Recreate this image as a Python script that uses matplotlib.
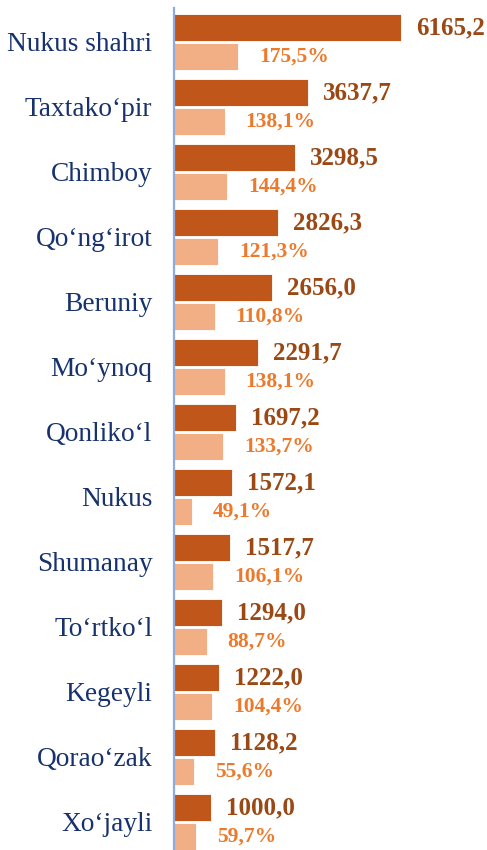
import matplotlib.pyplot as plt
import numpy as np

# Datos
tumanlar = ["Nukus shahri", "Taxtako\u2018pir", "Chimboy", "Qo\u2018ng\u2018irot", "Beruniy",
            "Mo\u2018ynoq", "Qonliko\u2018l", "Nukus", "Shumanay", "To\u2018rtko\u2018l",
            "Kegeyli", "Qorao\u2018zak", "Xo\u2018jayli"]
qiymat = [6165.2, 3637.7, 3298.5, 2826.3, 2656.0, 2291.7, 1697.2, 1572.1, 1517.7,
          1294.0, 1222.0, 1128.2, 1000.0]
foiz = [175.5, 138.1, 144.4, 121.3, 110.8, 138.1, 133.7, 49.1, 106.1, 88.7, 104.4,
        55.6, 59.7]

colOscuro = "#C0561A"
colClaro = "#F2AF86"
colTxtOscuro = "#9A4814"
colTxtClaro = "#EC7A2C"
colCat = "#17326C"

W, H = 487, 850
fig = plt.figure(figsize=(W / 100, H / 100), dpi=100)
ax = fig.add_axes([174 / W, 0, 1 - 174 / W, 1 - 8 / H])
ax2 = ax.twiny()

y = np.arange(len(tumanlar))
off = 0.222
alto = 0.415

ax.barh(y - off, qiymat, height=alto, color=colOscuro, edgecolor="white", linewidth=0.6)
ax2.barh(y + off, foiz, height=alto, color=colClaro, edgecolor="white", linewidth=0.6)

xmax = 313 / 0.03677
ax.set_xlim(0, xmax)
ax2.set_xlim(0, 313 / 0.3665)
ax.set_ylim(12.431, -0.523)

for i in range(len(tumanlar)):
    ax.annotate(("%.1f" % qiymat[i]).replace(".", ","), (qiymat[i], y[i] - off),
                xytext=(15, 0), textcoords="offset pixels", va="center", ha="left",
                fontsize=18, fontweight="bold", family="Liberation Serif",
                color=colTxtOscuro, annotation_clip=False)
    ax2.annotate(("%.1f%%" % foiz[i]).replace(".", ","), (foiz[i], y[i] + off),
                 xytext=(21, 0), textcoords="offset pixels", va="center", ha="left",
                 fontsize=15.5, fontweight="bold", family="Liberation Serif",
                 color=colTxtClaro, annotation_clip=False)

ax.set_xticks([])
ax2.set_xticks([])
ax.set_yticks(y)
ax.set_yticklabels(tumanlar, family="Liberation Serif", fontsize=19.7, color=colCat)
ax.tick_params(axis="y", length=0, pad=15.5)

for a in (ax, ax2):
    for s in ["top", "right", "bottom", "left"]:
        a.spines[s].set_visible(False)
ax2.spines["left"].set_visible(True)
ax2.spines["left"].set_color("#8FAADC")
ax2.spines["left"].set_linewidth(1.6)

fig.savefig("out.png", dpi=100)
